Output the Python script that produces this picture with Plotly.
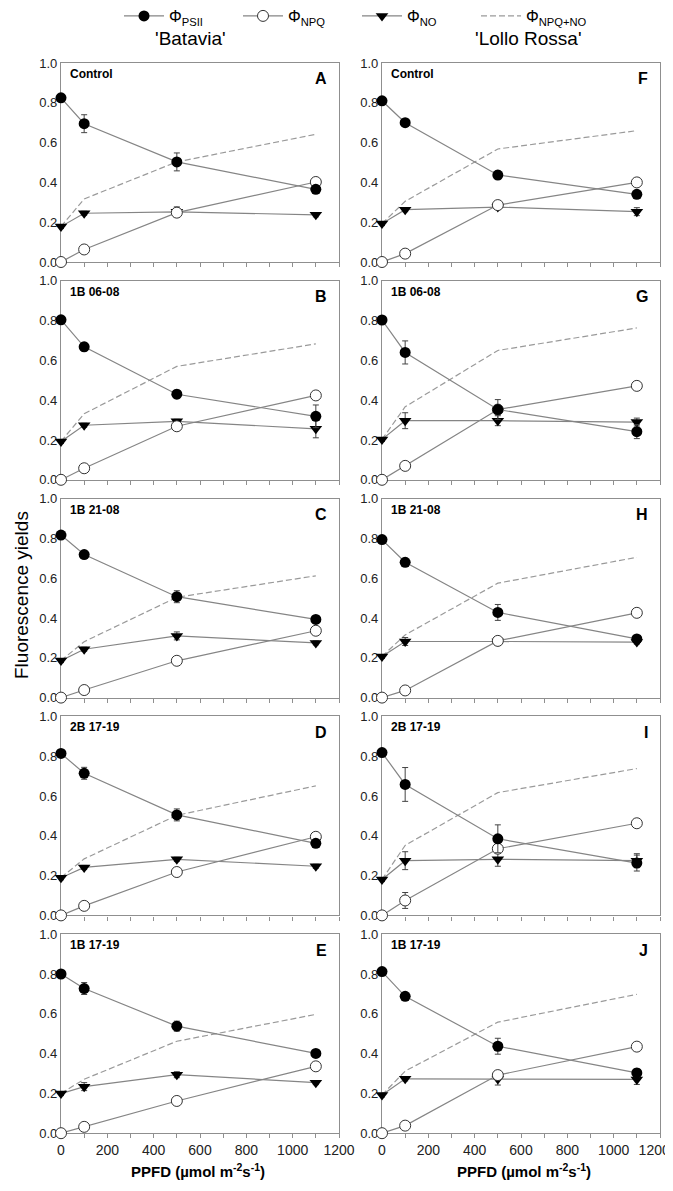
import plotly.graph_objects as go
from plotly.subplots import make_subplots

# PPFD levels (x)
ppfd = [0, 100, 500, 1100]

# panels: left column 'Batavia' A-E, right column 'Lollo Rossa' F-J
treatments = ["Control", "1B 06-08", "1B 21-08", "2B 17-19", "1B 17-19"]
letters_left = ["A", "B", "C", "D", "E"]
letters_right = ["F", "G", "H", "I", "J"]
x_ticks = [0, 200, 400, 600, 800, 1000, 1200]

# Phi PSII, order A..E then F..J
psii = [
    [0.825, 0.695, 0.503, 0.365],
    [0.804, 0.668, 0.430, 0.319],
    [0.817, 0.719, 0.507, 0.393],
    [0.814, 0.714, 0.505, 0.362],
    [0.800, 0.727, 0.538, 0.401],
    [0.810, 0.700, 0.437, 0.340],
    [0.803, 0.640, 0.353, 0.242],
    [0.794, 0.680, 0.428, 0.295],
    [0.818, 0.658, 0.385, 0.263],
    [0.812, 0.688, 0.437, 0.303],
]
psii_err = [
    [0.01, 0.045, 0.045, 0.01],
    [0.01, 0.02, 0.02, 0.057],
    [0.01, 0.015, 0.03, 0.01],
    [0.01, 0.03, 0.03, 0.01],
    [0.01, 0.03, 0.025, 0.01],
    [0.01, 0.01, 0.02, 0.01],
    [0.01, 0.058, 0.05, 0.035],
    [0.01, 0.02, 0.04, 0.01],
    [0.01, 0.085, 0.07, 0.04],
    [0.01, 0.01, 0.04, 0.02],
]

# Phi NPQ
npq = [
    [0, 0.063, 0.248, 0.402],
    [0, 0.058, 0.269, 0.424],
    [0, 0.038, 0.185, 0.336],
    [0, 0.048, 0.218, 0.395],
    [0, 0.032, 0.162, 0.336],
    [0, 0.042, 0.286, 0.400],
    [0, 0.070, 0.353, 0.472],
    [0, 0.036, 0.285, 0.426],
    [0, 0.075, 0.335, 0.463],
    [0, 0.038, 0.292, 0.435],
]
npq_err = [
    [0, 0.02, 0.02, 0.01],
    [0, 0.01, 0.01, 0.01],
    [0, 0.01, 0.015, 0.01],
    [0, 0.01, 0.01, 0.01],
    [0, 0.01, 0.01, 0.01],
    [0, 0.01, 0.01, 0.01],
    [0, 0.01, 0.01, 0.01],
    [0, 0.01, 0.01, 0.01],
    [0, 0.04, 0.02, 0.02],
    [0, 0.01, 0.01, 0.01],
]

# Phi NO
no = [
    [0.178, 0.245, 0.252, 0.237],
    [0.193, 0.274, 0.294, 0.256],
    [0.186, 0.243, 0.310, 0.275],
    [0.189, 0.241, 0.282, 0.247],
    [0.199, 0.234, 0.294, 0.254],
    [0.193, 0.263, 0.276, 0.253],
    [0.203, 0.297, 0.297, 0.290],
    [0.207, 0.282, 0.282, 0.279],
    [0.180, 0.275, 0.282, 0.275],
    [0.192, 0.273, 0.272, 0.270],
]
no_err = [
    [0.01, 0.01, 0.025, 0.01],
    [0.01, 0.01, 0.01, 0.045],
    [0.01, 0.01, 0.02, 0.01],
    [0.01, 0.01, 0.01, 0.01],
    [0.01, 0.02, 0.015, 0.01],
    [0.01, 0.01, 0.01, 0.02],
    [0.01, 0.04, 0.025, 0.02],
    [0.01, 0.02, 0.02, 0.01],
    [0.01, 0.045, 0.035, 0.035],
    [0.01, 0.01, 0.03, 0.025],
]

# Phi NPQ+NO (dashed)
npq_no = [
    [0.178, 0.317, 0.503, 0.642],
    [0.193, 0.332, 0.570, 0.683],
    [0.186, 0.281, 0.504, 0.612],
    [0.190, 0.284, 0.503, 0.651],
    [0.200, 0.271, 0.462, 0.597],
    [0.193, 0.305, 0.568, 0.660],
    [0.203, 0.367, 0.650, 0.763],
    [0.207, 0.315, 0.575, 0.705],
    [0.180, 0.352, 0.617, 0.738],
    [0.192, 0.312, 0.558, 0.698],
]

# the page body keeps its default 8px margin, so the figure is that much smaller
PAGE_W, PAGE_H, BODY = 673, 1191, 8
W, H = PAGE_W - 2 * BODY, PAGE_H - 2 * BODY
FONT = "Liberation Sans, Arial, sans-serif"
LINE_C = "#858585"
AXIS_C = "#8f8f8f"


def fx(px):
    # page pixel -> paper x
    return (px - BODY) / W


def fy(py):
    # page pixel -> paper y
    return 1 - (py - BODY) / H


fig = make_subplots(rows=5, cols=2)

def err(vals):
    return dict(type="data", array=vals, visible=True, color="#444",
                thickness=1, width=3)

for col in range(2):
    for row in range(5):
        k = col * 5 + row
        first = (k == 0)
        r, c = row + 1, col + 1
        fig.add_trace(go.Scatter(
            x=ppfd, y=npq_no[k], mode="lines", name="Φ<sub>NPQ+NO</sub>",
            line=dict(color="#9a9a9a", width=1.2, dash="6px,3px"),
            showlegend=first, legendrank=4, cliponaxis=False), row=r, col=c)
        fig.add_trace(go.Scatter(
            x=ppfd, y=no[k], mode="lines+markers", name="Φ<sub>NO</sub>",
            line=dict(color=LINE_C, width=1.2),
            marker=dict(symbol="triangle-down", size=11, color="black"),
            error_y=err(no_err[k]),
            showlegend=first, legendrank=3, cliponaxis=False), row=r, col=c)
        fig.add_trace(go.Scatter(
            x=ppfd, y=npq[k], mode="lines+markers", name="Φ<sub>NPQ</sub>",
            line=dict(color=LINE_C, width=1.2),
            marker=dict(symbol="circle", size=11, color="white",
                        line=dict(color="#333", width=1)),
            error_y=err(npq_err[k]),
            showlegend=first, legendrank=2, cliponaxis=False), row=r, col=c)
        fig.add_trace(go.Scatter(
            x=ppfd, y=psii[k], mode="lines+markers", name="Φ<sub>PSII</sub>",
            line=dict(color=LINE_C, width=1.2),
            marker=dict(symbol="circle", size=11, color="black"),
            error_y=err(psii_err[k]),
            showlegend=first, legendrank=1, cliponaxis=False), row=r, col=c)

# panel geometry in page pixels
col_x = [(61, 339), (382, 660)]
top0, step, ph = 63, 217.8, 199

annotations = []
for row in range(5):
    for col in range(2):
        idx = row * 2 + col + 1
        sfx = "" if idx == 1 else str(idx)
        top = top0 + step * row
        x0, x1 = col_x[col]
        bottom_row = (row == 4)
        tick_text = [str(v) for v in x_ticks]
        if col == 1:
            # last label kept inside the page, as in the original
            tick_text[-1] = "1200\u00a0\u00a0\u00a0"
        fig.layout["xaxis" + sfx].update(
            domain=[fx(x0), fx(x1)], range=[0, 1200], automargin=False,
            showline=True, mirror=True, linecolor=AXIS_C, linewidth=1.2,
            showgrid=False, zeroline=False, layer="below traces",
            ticks="outside", ticklen=4, tickcolor=AXIS_C,
            tickvals=x_ticks, ticktext=tick_text,
            minor=dict(dtick=100, ticks="outside", ticklen=4, tickcolor=AXIS_C),
            showticklabels=bottom_row, ticklabeloverflow="allow",
            tickfont=dict(family=FONT, size=14, color="#222"))
        fig.layout["yaxis" + sfx].update(
            domain=[fy(top + ph), fy(top)], range=[0, 1.0],
            automargin=False, layer="below traces",
            showline=True, mirror=True, linecolor=AXIS_C, linewidth=1.2,
            showgrid=False, zeroline=False, ticks="",
            tickvals=[0, 0.2, 0.4, 0.6, 0.8, 1.0], tickformat=".1f",
            tickfont=dict(family=FONT, size=13, color="#222"))
        xd = "x" + sfx + " domain"
        yd = "y" + sfx + " domain"
        annotations.append(dict(
            text="<b>%s</b>" % treatments[row], xref=xd, yref=yd,
            x=0.025, y=0.99, xanchor="left", yanchor="top", showarrow=False,
            font=dict(family=FONT, size=12, color="black")))
        letter = letters_left[row] if col == 0 else letters_right[row]
        annotations.append(dict(
            text="<b>%s</b>" % letter, xref=xd, yref=yd,
            x=0.965, y=0.92, xanchor="right", yanchor="middle", showarrow=False,
            font=dict(family=FONT, size=16, color="black")))

annotations += [
    dict(text="'Batavia'", xref="paper", yref="paper", x=fx(190), y=fy(39),
         xanchor="center", yanchor="middle", showarrow=False,
         font=dict(family=FONT, size=19, color="black")),
    dict(text="'Lollo Rossa'", xref="paper", yref="paper", x=fx(528), y=fy(39),
         xanchor="center", yanchor="middle", showarrow=False,
         font=dict(family=FONT, size=19, color="black")),
    dict(text="Fluorescence yields", xref="paper", yref="paper", x=fx(21), y=fy(595),
         xanchor="center", yanchor="middle", textangle=-90, showarrow=False,
         font=dict(family=FONT, size=19, color="black")),
    dict(text="<b>PPFD (µmol m<sup>-2</sup>s<sup>-1</sup>)</b>", xref="paper",
         yref="paper", x=fx(198), y=fy(1170), xanchor="center",
         yanchor="middle", showarrow=False,
         font=dict(family=FONT, size=15, color="black")),
    dict(text="<b>PPFD (µmol m<sup>-2</sup>s<sup>-1</sup>)</b>", xref="paper",
         yref="paper", x=fx(524), y=fy(1170), xanchor="center",
         yanchor="middle", showarrow=False,
         font=dict(family=FONT, size=15, color="black")),
]

fig.update_layout(
    width=W, height=H,
    margin=dict(l=0, r=0, t=0, b=0, autoexpand=False),
    paper_bgcolor="white", plot_bgcolor="white",
    annotations=annotations,
    legend=dict(orientation="h", x=fx(119), xanchor="left", y=1 + 9 / H,
                yanchor="top", font=dict(family=FONT, size=16, color="black"),
                itemwidth=40, entrywidth=64, entrywidthmode="pixels",
                traceorder="normal", bgcolor="rgba(0,0,0,0)"),
)

fig.write_html("out.html")
